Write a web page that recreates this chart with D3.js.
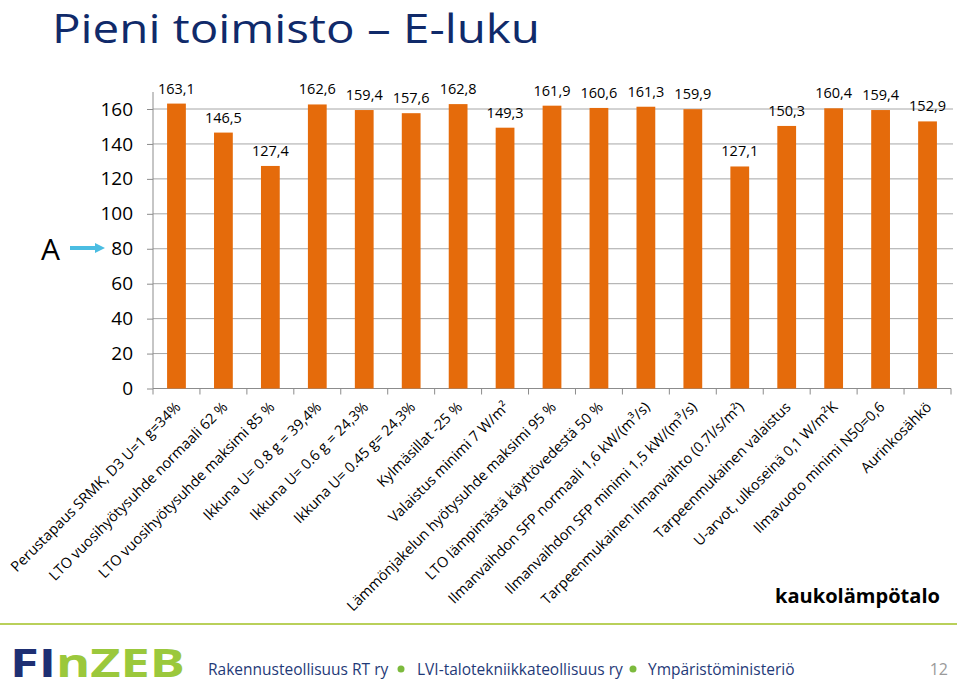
<!DOCTYPE html>
<html>
<head>
<meta charset="utf-8">
<script src="https://cdn.jsdelivr.net/npm/d3@7"></script>
<style>
html,body{margin:0;padding:0;background:#fff;}
svg{display:block;}
text{font-family:"Open Sans",sans-serif;}
</style>
</head>
<body>
<script>
const categories = [
  "Perustapaus SRMK, D3 U=1 g=34%",
  "LTO vuosihyötysuhde normaali 62 %",
  "LTO vuosihyötysuhde maksimi 85 %",
  "Ikkuna U= 0.8 g = 39,4%",
  "Ikkuna U= 0.6 g = 24,3%",
  "Ikkuna U= 0.45 g= 24,3%",
  "Kylmäsillat -25 %",
  "Valaistus minimi 7 W/m²",
  "Lämmönjakelun hyötysuhde maksimi 95 %",
  "LTO lämpimästä käyttövedestä 50 %",
  "Ilmanvaihdon SFP normaali 1,6 kW/(m³/s)",
  "Ilmanvaihdon SFP minimi 1,5 kW/(m³/s)",
  "Tarpeenmukainen ilmanvaihto (0.7l/s/m²)",
  "Tarpeenmukainen valaistus",
  "U-arvot, ulkoseinä 0,1 W/m²K",
  "Ilmavuoto minimi N50=0,6",
  "Aurinkosähkö"
];
const values = [163.1,146.5,127.4,162.6,159.4,157.6,162.8,149.3,161.9,160.6,161.3,159.9,127.1,150.3,160.4,159.4,152.9];
const yTicks = [0,20,40,60,80,100,120,140,160];
const titleText = "Pieni toimisto – E-luku";
const subtitleText = "kaukolämpötalo";
const markerText = "A";
const footerItems = ["Rakennusteollisuus RT ry","LVI-talotekniikkateollisuus ry","Ympäristöministeriö"];
const pageNumber = "12";

const W = 960, H = 691;
const svg = d3.select("body").append("svg").attr("width", W).attr("height", H);

const fi = d3.formatLocale({decimal: ",", thousands: " ", grouping: [3], currency: ["", "€"]});
const fmt = fi.format(".1f");

const x = d3.scaleBand().domain(categories).range([153, 951]).paddingInner(0.6).paddingOuter(0.3);
const y = d3.scaleLinear().domain([0, 160]).range([388.5, 109]);

function fitSize(sel, width) {
  const fs = +sel.attr("font-size");
  const len = sel.node().getComputedTextLength();
  sel.attr("font-size", fs * width / len);
}

// title
svg.append("text").attr("x", 52).attr("y", 43).attr("fill", "#102a6a").attr("font-size", 40)
  .attr("textLength", 488).attr("lengthAdjust", "spacingAndGlyphs").text(titleText);

// gridlines
svg.append("g").selectAll("line").data(yTicks.filter(d => d > 0)).join("line")
  .attr("x1", 153).attr("x2", 953).attr("y1", d => y(d)).attr("y2", d => y(d))
  .attr("stroke", "#a6a6a6").attr("stroke-width", 1);

// y axis
const yAxis = d3.axisLeft(y).tickValues(yTicks).tickSize(6).tickPadding(14).tickFormat(d3.format("d"));
const gy = svg.append("g").attr("transform", "translate(153,0)").call(yAxis);
gy.select(".domain").remove();
gy.append("line").attr("x1", 0).attr("x2", 0).attr("y1", 92).attr("y2", y(0)).attr("stroke", "#8c8c8c");
gy.selectAll(".tick line").attr("stroke", "#8c8c8c");
gy.selectAll(".tick text").attr("font-size", 19).attr("fill", "#000").attr("font-family", "Open Sans");

// x axis
const gx = svg.append("g").attr("transform", `translate(0,${y(0)})`);
gx.append("line").attr("x1", 153).attr("x2", 951).attr("stroke", "#8c8c8c");
const step = x.step();
const bounds = d3.range(categories.length + 1).map(i => 153 + i * step);
gx.selectAll("line.tk").data(bounds).join("line").attr("class", "tk")
  .attr("x1", d => d).attr("x2", d => d).attr("y1", 0).attr("y2", 6).attr("stroke", "#8c8c8c");

// bars
svg.append("g").selectAll("rect").data(values).join("rect")
  .attr("x", (d, i) => x(categories[i])).attr("width", x.bandwidth())
  .attr("y", d => y(d)).attr("height", d => y(0) - y(d))
  .attr("fill", "#e56b0b");

// value labels
svg.append("g").selectAll("text").data(values).join("text")
  .attr("x", (d, i) => x(categories[i]) + x.bandwidth() / 2)
  .attr("y", d => y(d) - 10)
  .attr("text-anchor", "middle").attr("font-size", 14.5).attr("fill", "#000")
  .text(d => fmt(d));

// category labels
svg.append("g").selectAll("text").data(categories).join("text")
  .attr("transform", d => `translate(${x(d) + x.bandwidth() / 2 + 5},${408}) rotate(-45)`)
  .attr("text-anchor", "end").attr("font-size", 14.5).attr("fill", "#000")
  .text(d => d);

// marker A with arrow
svg.append("text").attr("x", 41).attr("y", 260).attr("font-size", 30).attr("fill", "#000").text(markerText);
svg.append("line").attr("x1", 70).attr("x2", 97).attr("y1", 248).attr("y2", 248)
  .attr("stroke", "#4bbde2").attr("stroke-width", 4);
svg.append("path").attr("d", "M95,243 L105,248 L95,253 Z").attr("fill", "#4bbde2");

// subtitle
const sub = svg.append("text").attr("x", 775).attr("y", 603).attr("font-size", 20).attr("font-weight", "bold").attr("fill", "#000").text(subtitleText);
fitSize(sub, 165);

// footer line
svg.append("line").attr("x1", 0).attr("x2", 957).attr("y1", 624).attr("y2", 624)
  .attr("stroke", "#b9d05a").attr("stroke-width", 2);

// logo
const logo = svg.append("text").attr("x", 10).attr("y", 677).attr("font-size", 40)
  .attr("font-family", "Liberation Sans").attr("font-weight", "bold")
  .attr("textLength", 175).attr("lengthAdjust", "spacingAndGlyphs");
logo.append("tspan").attr("fill", "#1e2f73").text("FI");
logo.append("tspan").attr("fill", "#9bc83c").text("nZEB");

// footer text
const fx = [208, 417, 648];
footerItems.forEach((t, i) => {
  svg.append("text").attr("x", fx[i]).attr("y", 675).attr("font-size", 15.5).attr("fill", "#1f3a78").text(t);
});
[401, 633].forEach(cx => svg.append("circle").attr("cx", cx).attr("cy", 669).attr("r", 3.5).attr("fill", "#7cba3d"));
svg.append("text").attr("x", 948).attr("y", 675).attr("text-anchor", "end").attr("font-size", 16)
  .attr("fill", "#9a9a9a").text(pageNumber);
</script>
</body>
</html>
